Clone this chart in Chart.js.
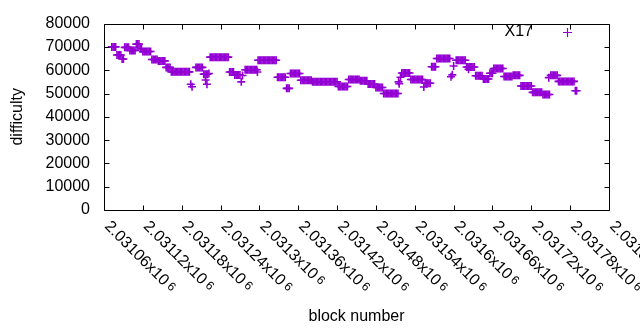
<!DOCTYPE html>
<html>
<head>
<meta charset="utf-8">
<script src="https://cdn.jsdelivr.net/npm/chart.js@4/dist/chart.umd.min.js"></script>
<style>
  html, body { margin: 0; padding: 0; background: #fff; }
  #wrap { width: 640px; height: 330px; }
</style>
</head>
<body>
<div id="wrap"><canvas id="c" width="640" height="330"></canvas></div>
<script>
// ---------------- data ----------------
const seriesName = 'X17';
const xTitle = 'block number';
const yTitle = 'difficulty';

// main series: one value every `blockStep` blocks starting at `firstBlock` (null = no block plotted)
const firstBlock = 2031072;
const blockStep = 2;
const difficulty = [
  70000, 70000, 70000, 70000,
  66500, 66500, 66500, 66500,
  64800, 64800,
  69800, 69800, 69800, 69800,
  68500, 68500, 68500, 68500, 68500,
  71200, 71200, 71200,
  69200, 69200,
  68000, 68000, 68000, 68000, 68000, 68000, 68000,
  64600, 64600, 64600, 64600, 64600,
  64000, 64000, 64000, 64000, 64000, 64000,
  61200, 61200, 61200, 61200,
  59300, 59300, 59300, 59300, 59300, 59300, 59300, 59300, 59300, 59300, 59300, 59300, 59300, 59300, 59300,
  54000, 52900,
  null, null,
  61200, 61200, 61200, 61200, 61200, 61200,
  58300, 58300, 58300, 58300,
  58600,
  65600, 65600, 65600, 65600, 65600, 65600, 65600, 65600, 65600, 65600, 65600, 65600, 65600, 65600, 65600,
  59200, 59200, 59200, 59200,
  57900, 57900, 57900, 57900, 57900,
  55000, 57700,
  null,
  60200, 60200, 60200, 60200, 60200, 60200, 60200, 60200, 60200, 60200,
  64300, 64300, 64300, 64300, 64300, 64300, 64300, 64300, 64300, 64300, 64300, 64300, 64300, 64300, 64300,
  57000, 57000, 57000, 57000, 57000, 57000, 57000,
  52200, 52200, 52200,
  58600, 58600, 58600, 58600, 58600, 58600, 58600, 58600,
  55700, 55700, 55700, 55700, 55700, 55700, 55700, 55700, 55700,
  55000, 55000, 55000, 55000, 55000, 55000, 55000, 55000, 55000, 55000,
  55000, 55000, 55000, 55000, 55000, 55000, 55000, 55000, 55000, 55000,
  53000, 53000, 53000, 53000, 53000, 53000, 53000, 53000,
  56000, 56000, 56000, 56000, 56000, 56000, 56000, 56000, 56000,
  55500, 55500, 55500, 55500, 55500, 55500,
  54100, 54100, 54100, 54100, 54100, 54100,
  52600, 52600, 52600, 52600, 52600, 52600,
  50000, 50000, 50000, 50000, 50000, 50000, 50000, 50000, 50000, 50000, 50000, 50000,
  54200, 57000,
  58800, 58800, 58800, 58800, 58800, 58800, 58800,
  56000, 56000, 56000, 56000, 56000, 56000, 56000, 56000, 56000, 56000,
  52800,
  54400, 54400, 54400, 54400, 54400,
  61500, 61500, 61500, 61500,
  65000, 65000, 65000, 65000, 65000, 65000, 65000, 65000, 65000, 65000, 65000,
  57200, 58000, 61800, null,
  64300, 64300, 64300, 64300, 64300, 64300, 64300, 64300,
  61400, 61400, 61400, 61400, 61400, 61400, 61400,
  57600, 57600, 57600, 57600, 57600, 57600,
  56200, 56200, 56200, 56200, 56200,
  58700, 58700, 58700,
  60700, 60700, 60700, 60700, 60700, 60700, 60700, 60700,
  57300, 57300, 57300, 57300, 57300, 57300, 57300,
  57800, 57800, 57800, 57800, 57800, 57800,
  53200, 53200, 53200, 53200, 53200, 53200, 53200, 53200, 53200,
  50500, 50500, 50500, 50500, 50500, 50500, 50500, 50500,
  49600, 49600, 49600, 49600, 49600, 49600,
  57800, 57800, 57800, 57800, 57800, 57800,
  55200, 55200, 55200, 55200, 55200, 55200, 55200, 55200, 55200, 55200, 55200, 55200, 55200,
  51200, 51200
];

// isolated extra blocks (same series)
const extraBlocks     = [2031217, 2031219, 2031297, 2031515, 2031623, 2031747];
const extraDifficulty = [55800,   54000,   59200,   55000,   60400,   56800];

// axes
const xMin = 2031060, xMax = 2031840;
const xTickValues = [2031060, 2031120, 2031180, 2031240, 2031300, 2031360, 2031420,
                     2031480, 2031540, 2031600, 2031660, 2031720, 2031780, 2031840];
const xTickMantissas = ['2.03106', '2.03112', '2.03118', '2.03124', '2.0313', '2.03136', '2.03142',
                        '2.03148', '2.03154', '2.0316', '2.03166', '2.03172', '2.03178', '2.03184'];
const xTickExponent = '6';
const yMin = 0, yMax = 80000, yStep = 10000;
const yTickValues = [0, 10000, 20000, 30000, 40000, 50000, 60000, 70000, 80000];
const yTickLabels = ['0', '10000', '20000', '30000', '40000', '50000', '60000', '70000', '80000'];

// ---------------- chart ----------------
const FONT = '"Liberation Sans", Arial, sans-serif';
const FS = 16;
const PURPLE = '#9400d3';

const points = [];
difficulty.forEach((v, i) => { if (v !== null) points.push({ x: firstBlock + blockStep * i, y: v }); });
extraBlocks.forEach((b, i) => points.push({ x: b, y: extraDifficulty[i] }));

const framePlugin = {
  id: 'frame',
  afterDraw(chart) {
    const ctx = chart.ctx;
    const xs = chart.scales.x, ys = chart.scales.y;
    const a = chart.chartArea;
    const L = Math.round(a.left) + 0.5, R = Math.round(a.right) + 0.5;
    const T = Math.round(a.top) + 0.5, B = Math.round(a.bottom) + 0.5;
    ctx.save();
    ctx.strokeStyle = '#000';
    ctx.lineWidth = 1;
    ctx.beginPath();
    ctx.rect(L, T, R - L, B - T);
    yTickValues.forEach(v => {
      const py = Math.round(ys.getPixelForValue(v)) + 0.5;
      ctx.moveTo(L, py); ctx.lineTo(L + 5, py);
      ctx.moveTo(R, py); ctx.lineTo(R - 5, py);
    });
    xTickValues.forEach(v => {
      const px = Math.round(xs.getPixelForValue(v)) + 0.5;
      ctx.moveTo(px, B); ctx.lineTo(px, B - 5);
      ctx.moveTo(px, T); ctx.lineTo(px, T + 5);
    });
    ctx.stroke();

    // rotated x tick labels
    ctx.fillStyle = '#000';
    xTickValues.forEach((v, i) => {
      const px = xs.getPixelForValue(v);
      ctx.save();
      ctx.translate(px + 3, a.bottom + 14);
      ctx.rotate(Math.PI / 4);
      ctx.textAlign = 'left';
      ctx.textBaseline = 'middle';
      ctx.font = FS + 'px ' + FONT;
      const main = xTickMantissas[i] + 'x10';
      ctx.fillText(main, 0, 0);
      const w = ctx.measureText(main).width;
      ctx.font = '12px ' + FONT;
      ctx.fillText(xTickExponent, w + 3, -1);
      ctx.restore();
    });

    // axis titles
    ctx.font = FS + 'px ' + FONT;
    ctx.textAlign = 'center';
    ctx.textBaseline = 'alphabetic';
    ctx.fillText(xTitle, (a.left + a.right) / 2, 321);
    ctx.save();
    ctx.translate(22, (a.top + a.bottom) / 2);
    ctx.rotate(-Math.PI / 2);
    ctx.fillText(yTitle, 0, 0);
    ctx.restore();

    // legend
    ctx.textAlign = 'right';
    ctx.textBaseline = 'middle';
    ctx.fillText(seriesName, 533, 32);
    ctx.strokeStyle = PURPLE;
    ctx.lineWidth = 1.2;
    ctx.beginPath();
    ctx.moveTo(563, 32.5); ctx.lineTo(572, 32.5);
    ctx.moveTo(567.5, 28); ctx.lineTo(567.5, 37);
    ctx.stroke();
    ctx.restore();
  }
};

new Chart(document.getElementById('c'), {
  type: 'scatter',
  data: {
    datasets: [{
      label: seriesName,
      data: points,
      pointStyle: 'cross',
      pointRadius: 4,
      pointHoverRadius: 4,
      pointBorderWidth: 1.6,
      borderColor: PURPLE,
      backgroundColor: PURPLE,
      showLine: false
    }]
  },
  options: {
    responsive: false,
    animation: false,
    events: [],
    layout: { padding: { top: 18, right: 31, left: 0, bottom: 0 } },
    plugins: { legend: { display: false }, tooltip: { enabled: false } },
    scales: {
      x: {
        type: 'linear', min: xMin, max: xMax,
        afterFit: s => { s.height = 120; },
        ticks: { display: false, stepSize: 60 },
        grid: { display: false, drawTicks: false },
        border: { display: false }
      },
      y: {
        min: yMin, max: yMax,
        afterFit: s => { s.width = 104; },
        afterBuildTicks: s => { s.ticks = yTickValues.map(v => ({ value: v })); },
        ticks: {
          stepSize: yStep, padding: 14, color: '#000',
          font: { family: FONT, size: FS },
          callback: (v) => yTickLabels[yTickValues.indexOf(v)]
        },
        grid: { display: false, drawTicks: false },
        border: { display: false }
      }
    }
  },
  plugins: [framePlugin]
});
</script>
</body>
</html>
